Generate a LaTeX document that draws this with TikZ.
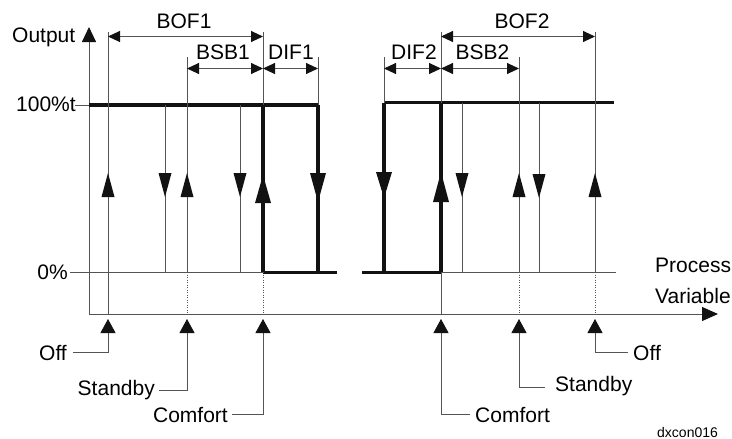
\documentclass[tikz,border=0pt]{standalone}
\usepackage{fontspec}
\setmainfont{Liberation Sans}
\usetikzlibrary{arrows.meta}
\definecolor{lg}{rgb}{0.33,0.33,0.33}
\definecolor{dk}{rgb}{0.07,0.07,0.07}
% filled triangles on the vertical lines: x, tip y, width, length
\newcommand\UpTri[4]{\fill[dk] (#1,#2) -- (#1-#3/2,#2+#4) -- (#1+#3/2,#2+#4) -- cycle;}
\newcommand\DnTri[4]{\fill[dk] (#1,#2) -- (#1-#3/2,#2-#4) -- (#1+#3/2,#2-#4) -- cycle;}
\begin{document}
\begin{tikzpicture}[x=1pt,y=-1pt,
  thinln/.style={draw=lg, line width=0.9pt},
  thickln/.style={draw=dk, line width=3.5pt},
  dotln/.style={draw=lg, line width=0.8pt, dash pattern=on 1pt off 1.5pt},
  dimln/.style={draw=lg, line width=0.9pt,
     {Triangle[length=12pt,width=11pt,color=dk]}-{Triangle[length=12pt,width=11pt,color=dk]}},
  lead/.style={draw=lg, line width=0.9pt, -{Triangle[length=14pt,width=15pt,color=dk]}},
  lbl/.style={inner sep=0pt, font=\fontsize{21}{25}\selectfont},
  small/.style={inner sep=0pt, font=\fontsize{14}{17}\selectfont},
]
\useasboundingbox (0,0) rectangle (732,439);

% ---------------- axes ----------------
\coordinate (O) at (89,314);
\coordinate (ytop) at (89,27);
\coordinate (xend) at (718,314);
\draw[thinln, -{Triangle[length=15pt,width=14pt,color=dk]}] (O) -- (ytop);
\draw[thinln, -{Triangle[length=16pt,width=14pt,color=dk]}] (O) -- (xend);

\node[lbl, anchor=base west] (out) at (12,42) {Output};
\node[lbl, anchor=base west] (full) at (16,111) {100\%t};
\node[lbl, anchor=base east] (zero) at (68,279) {0\%};
\node[lbl, anchor=base west] (pv1) at (655,272) {Process};
\node[lbl, anchor=base west] (pv2) at (655,303) {Variable};
\node[small, anchor=base west] (id) at (657,437) {dxcon016};

% ---------------- level lines ----------------
\draw[thinln] (75,105.5) -- (89,105.5);
\draw[thinln] (70,272.5) -- (263,272.5);
\draw[thinln] (441,272.5) -- (616,272.5);
\draw[thickln] (89,105) -- (318,105);
\draw[thickln] (384,102.5) -- (614,102.5);
\draw[thickln] (263,272.5) -- (337,272.5);
\draw[thickln] (362,272.5) -- (441,272.5);

% ---------------- left group verticals ----------------
\draw[thinln] (108,32) -- (108,314);  \UpTri{108}{173}{13}{24}
\draw[thinln] (165,105) -- (165,272); \DnTri{165}{197}{13}{24}
\draw[thinln] (187,57) -- (187,272);  \UpTri{187}{173}{13}{24}
\draw[dotln] (187,272) -- (187,314);
\draw[thinln] (240,105) -- (240,272); \DnTri{240}{197}{13}{24}
\draw[thinln] (263,32) -- (263,105);
\draw[thickln] (263,105) -- (263,272); \UpTri{263}{175}{16}{28}
\draw[dotln] (263,272) -- (263,314);
\draw[thinln] (318,57) -- (318,105);
\draw[thickln] (318,105) -- (318,272); \DnTri{318}{202}{16}{29}

% ---------------- right group verticals ----------------
\draw[thinln] (384,57) -- (384,103);
\draw[thickln] (384,102.5) -- (384,272); \DnTri{384}{198}{16}{26}
\draw[thinln] (441,32) -- (441,103);
\draw[thickln] (441,102.5) -- (441,272); \UpTri{441}{172}{16}{30}
\draw[thinln] (441,272) -- (441,314);
\draw[thinln] (462,103) -- (462,272); \DnTri{462}{197}{13}{24}
\draw[thinln] (519,57) -- (519,272);  \UpTri{519}{173}{13}{24}
\draw[dotln] (519,272) -- (519,314);
\draw[thinln] (539,103) -- (539,272); \DnTri{539}{198}{13}{24}
\draw[thinln] (595,32) -- (595,272);  \UpTri{595}{173}{13}{24}
\draw[dotln] (595,272) -- (595,314);

% ---------------- dimension lines ----------------
\draw[dimln] (108,36.5) -- (263,36.5);
\draw[dimln] (187,68.5) -- (263,68.5);
\draw[dimln] (263,68.5) -- (318,68.5);
\draw[dimln] (384,68.5) -- (441,68.5);
\draw[dimln] (441,68.5) -- (519,68.5);
\draw[dimln] (441,36.5) -- (595,36.5);
\node[lbl, anchor=base] (bof1) at (184,28) {BOF1};
\node[lbl, anchor=base] (bsb1) at (223,59) {BSB1};
\node[lbl, anchor=base] (dif1) at (291,59) {DIF1};
\node[lbl, anchor=base] (dif2) at (414,59) {DIF2};
\node[lbl, anchor=base] (bsb2) at (482.5,59) {BSB2};
\node[lbl, anchor=base] (bof2) at (522,28) {BOF2};

% ---------------- set points ----------------
\coordinate (a1) at (108,319);
\coordinate (a2) at (187,319);
\coordinate (a3) at (263,319);
\coordinate (a4) at (441,319);
\coordinate (a5) at (519,319);
\coordinate (a6) at (595,319);
\node[lbl, anchor=base east] (off1) at (67,360) {Off};
\node[lbl, anchor=base east] (sb1) at (155,395) {Standby};
\node[lbl, anchor=base east] (cf1) at (228,422) {Comfort};
\node[lbl, anchor=base west] (cf2) at (475,422) {Comfort};
\node[lbl, anchor=base west] (sb2) at (555,391) {Standby};
\node[lbl, anchor=base west] (off2) at (633,360) {Off};
\draw[lead] ([xshift=6pt]off1.east) -| (a1);
\draw[lead] ([xshift=4pt,yshift=-1pt]sb1.east) -| (a2);
\draw[lead] ([xshift=4pt]cf1.east) -| (a3);
\draw[lead] ([xshift=-5pt]cf2.west) -| (a4);
\draw[lead] ([xshift=-10pt,yshift=-2pt]sb2.west) -| (a5);
\draw[lead] ([xshift=-5pt]off2.west) -| (a6);
\end{tikzpicture}
\end{document}
